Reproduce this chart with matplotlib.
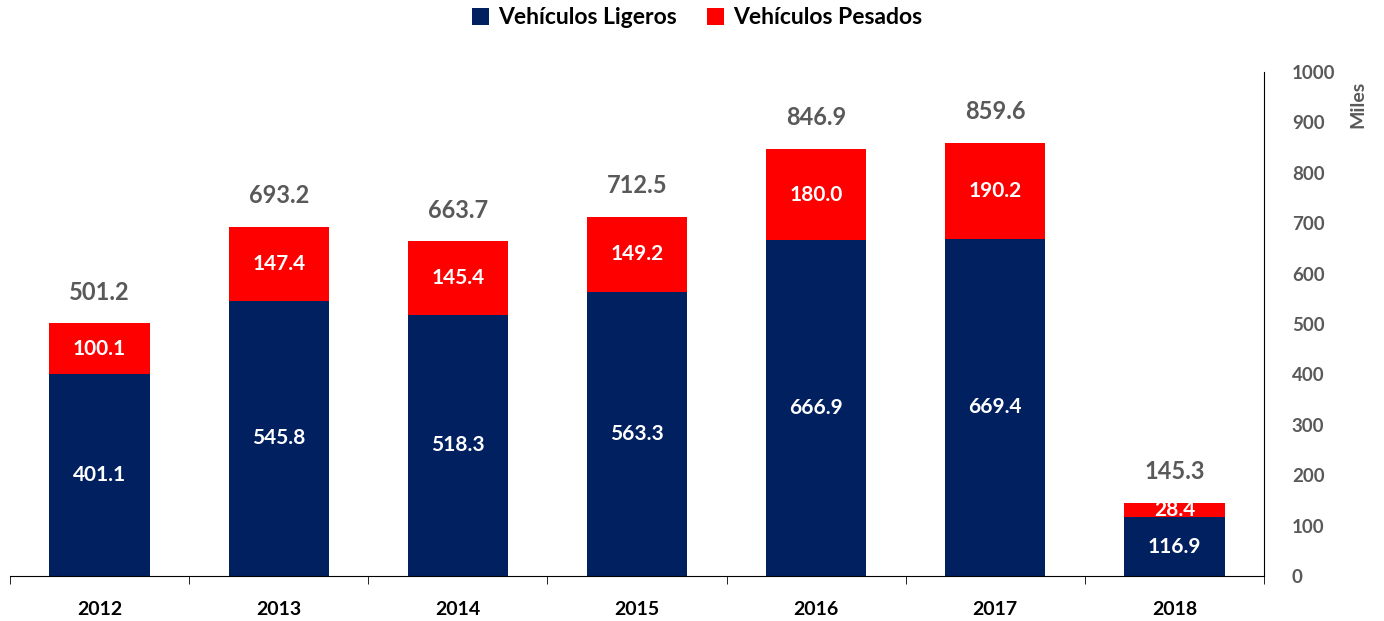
import numpy as np
import matplotlib
matplotlib.use("Agg")
import matplotlib.pyplot as plt
from matplotlib.ticker import FixedLocator

plt.rcParams['font.family'] = ['Lato', 'DejaVu Sans']

years = ['2012', '2013', '2014', '2015', '2016', '2017', '2018']
ligeros = [401.1, 545.8, 518.3, 563.3, 666.9, 669.4, 116.9]
pesados = [100.1, 147.4, 145.4, 149.2, 180.0, 190.2, 28.4]
totales = [501.2, 693.2, 663.7, 712.5, 846.9, 859.6, 145.3]

navy = '#002060'
red = '#FF0000'
grey = '#595959'

fig = plt.figure(figsize=(13.84, 6.21), dpi=100)
ax = fig.add_axes([10 / 1384, 1 - 576 / 621, 1254 / 1384, 504 / 621])

x = np.arange(len(years))
w = 0.56
b1 = ax.bar(x, ligeros, w, color=navy, label='Vehículos Ligeros')
b2 = ax.bar(x, pesados, w, bottom=ligeros, color=red, label='Vehículos Pesados')

for i in range(len(years)):
    ax.text(x[i], ligeros[i] / 2, f'{ligeros[i]:.1f}', ha='center', va='center',
            color='white', fontsize=15, fontweight='bold')
    ax.text(x[i], ligeros[i] + pesados[i] / 2, f'{pesados[i]:.1f}', ha='center',
            va='center', color='white', fontsize=15, fontweight='bold')
    # total on top of the stack
    ax.text(x[i], ligeros[i] + pesados[i] + 62, f'{totales[i]:.1f}', ha='center',
            va='center', color=grey, fontsize=17, fontweight='bold')

ax.set_xlim(-0.5, len(years) - 0.5)
ax.set_ylim(0, 1000)

ax.spines['top'].set_visible(False)
ax.spines['left'].set_visible(False)
ax.spines['right'].set_color('black')
ax.spines['bottom'].set_color('black')

ax.yaxis.tick_right()
ax.set_yticks(np.arange(0, 1001, 100))
ax.tick_params(axis='y', length=0, pad=20, labelsize=13.5, labelcolor=grey)
for lab in ax.get_yticklabels():
    lab.set_fontweight('bold')

ax.set_xticks(x)
ax.set_xticklabels(years, fontsize=14, fontweight='bold')
ax.tick_params(axis='x', length=0, pad=18)
ax.xaxis.set_minor_locator(FixedLocator(np.arange(-0.5, len(years), 1)))
ax.tick_params(axis='x', which='minor', length=6, direction='out', color='black')

fig.text(1358 / 1384, 1 - 104 / 621, 'Miles', rotation=90, ha='center', va='center',
         color=grey, fontsize=14, fontweight='bold')

leg = fig.legend(handles=[b1, b2], loc='center', bbox_to_anchor=(697 / 1384, 1 - 18 / 621),
                 ncol=2, frameon=False, fontsize=16.5, handlelength=0.75, handleheight=0.75,
                 columnspacing=1.3, handletextpad=0.4)
for t in leg.get_texts():
    t.set_fontweight('bold')

fig.savefig('out.png', dpi=100)
